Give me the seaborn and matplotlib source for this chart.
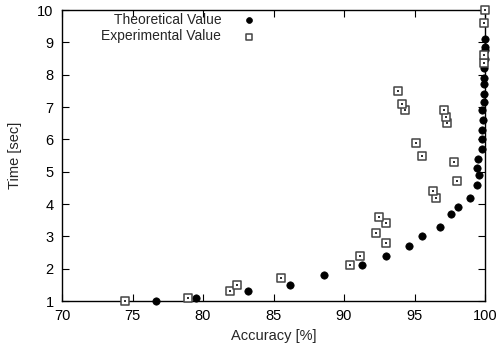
import numpy as np
import pandas as pd
import matplotlib
matplotlib.use("Agg")
import matplotlib.pyplot as plt
import seaborn as sns

# ---------------------------------------------------------------------------
# Data
# ---------------------------------------------------------------------------
theo_acc = [76.7, 79.5, 83.2, 86.2, 88.6, 91.3, 93.0, 94.6, 95.5, 96.8,
            97.6, 98.1, 98.9, 99.4, 99.6, 99.4, 99.5, 99.75, 99.8, 99.75,
            99.85, 99.8, 99.9, 99.95, 99.95, 99.95, 99.95, 99.97, 99.97,
            99.97, 99.98]
theo_time = [1.0, 1.08, 1.3, 1.5, 1.8, 2.1, 2.4, 2.7, 3.0, 3.3,
             3.7, 3.9, 4.2, 4.6, 4.9, 5.1, 5.4, 5.7, 6.0, 6.3,
             6.6, 6.9, 7.15, 7.4, 7.7, 7.9, 8.2, 8.5, 8.75,
             8.85, 9.1]

exp_acc = [74.5, 78.9, 81.9, 82.4, 85.5, 90.4, 91.1, 93.0, 92.3, 93.0,
           92.5, 96.5, 96.3, 98.0, 97.8, 95.5, 95.1, 97.3, 97.2, 97.1,
           94.3, 94.1, 93.8, 99.9, 99.9, 99.95, 100.0]
exp_time = [1.0, 1.08, 1.3, 1.5, 1.7, 2.1, 2.4, 2.8, 3.1, 3.4,
            3.6, 4.2, 4.4, 4.7, 5.3, 5.5, 5.9, 6.5, 6.7, 6.9,
            6.9, 7.1, 7.5, 8.35, 8.6, 9.6, 10.0]

x_ticks = [70, 75, 80, 85, 90, 95, 100]
y_ticks = [1, 2, 3, 4, 5, 6, 7, 8, 9, 10]

theo = pd.DataFrame({"acc": theo_acc, "time": theo_time})
exp = pd.DataFrame({"acc": exp_acc, "time": exp_time})

sns.set_style("ticks")
plt.rcParams["font.family"] = ["Liberation Sans", "DejaVu Sans"]

fig = plt.figure(figsize=(4.98, 3.49), dpi=100)
ax = fig.add_axes([0.1245, 0.1375, 0.8495, 0.8338])

sns.scatterplot(data=theo, x="acc", y="time", ax=ax, marker="o", s=28,
                color="black", edgecolor="black", linewidth=0.5,
                label="Theoretical Value", clip_on=False, zorder=3)
sns.scatterplot(data=exp, x="acc", y="time", ax=ax, marker="s", s=38,
                facecolor="white", edgecolor="#444444", linewidth=1.1,
                label="Experimental Value", clip_on=False, zorder=4)
# small centre dot of the boxed-dot marker
ax.scatter(exp["acc"], exp["time"], marker="s", s=2, color="#333333",
           linewidths=0, clip_on=False, zorder=5)

ax.set_xlim(70, 100)
ax.set_ylim(1, 10)
ax.set_xticks(x_ticks)
ax.set_yticks(y_ticks)
ax.tick_params(direction="in", length=5, width=0.8, labelsize=10.5,
               top=True, right=True, pad=6, colors="black")
for sp in ax.spines.values():
    sp.set_linewidth(1.0)
    sp.set_color("black")

ax.set_xlabel("Accuracy [%]", fontsize=10.5, labelpad=4)
ax.set_ylabel("Time [sec]", fontsize=10.5, labelpad=11)

# gnuplot-style key: right-aligned labels followed by the marker
ax.legend(loc="upper right", bbox_to_anchor=(0.488, 1.01), frameon=False,
          markerfirst=False, fontsize=10, handletextpad=1.0,
          labelspacing=0.2, borderaxespad=0.0, markerscale=0.8)

fig.savefig("out.png", dpi=100)
